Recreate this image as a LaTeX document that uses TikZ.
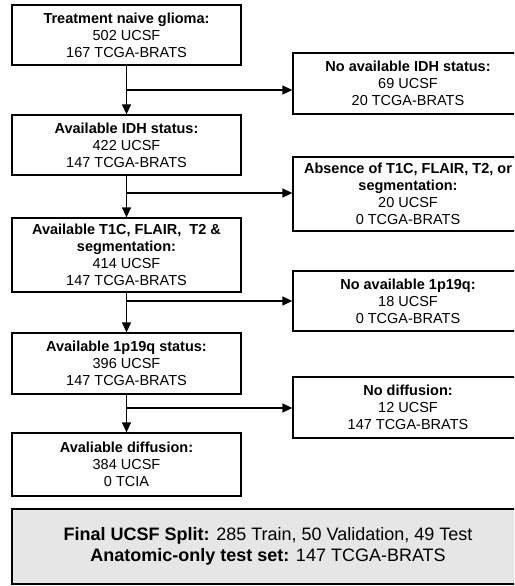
\documentclass[tikz,border=0pt]{standalone}
\usepackage{fontspec}
\setmainfont{Liberation Sans}
\usetikzlibrary{arrows.meta}
\begin{document}
\begin{tikzpicture}[x=1pt,y=-1pt,
  box/.style={draw=black,line width=1.3pt,fill=white,inner sep=0pt,align=center,
    font=\fontsize{14.5}{17}\selectfont},
  lbox/.style={box,minimum width=229pt},
  rbox/.style={box,minimum width=230pt},
  fbox/.style={draw=black,line width=1.3pt,fill={rgb,255:red,230;green,230;blue,230},inner sep=0pt,align=center,
    font=\fontsize{18}{21}\selectfont,minimum width=512pt,minimum height=75pt},
  arr/.style={line width=1.3pt,-{Triangle[length=10pt,width=9pt]}},
  ln/.style={line width=1.3pt}]
\useasboundingbox (0,0) rectangle (514,586);
\clip (0,0) rectangle (514,586);
\fill[white] (0,0) rectangle (514,586);
% left column
\node[lbox,minimum height=60pt] (b1) at (126.5,35) {\textbf{Treatment naive glioma:}\\502 UCSF\\167 TCGA-BRATS};
\node[lbox,minimum height=60pt] (b2) at (126.5,145) {\textbf{Available IDH status:}\\422 UCSF\\147 TCGA-BRATS};
\node[lbox,minimum height=74pt] (b3) at (126.5,255) {\textbf{Available T1C, FLAIR,\ \ T2 \&}\\\textbf{segmentation:}\\414 UCSF\\147 TCGA-BRATS};
\node[lbox,minimum height=61pt] (b4) at (126.5,363.5) {\textbf{Available 1p19q status:}\\396 UCSF\\147 TCGA-BRATS};
\node[lbox,minimum height=63pt] (b5) at (126.5,464.5) {\textbf{Avaliable diffusion:}\\384 UCSF\\0 TCIA};
% right column
\node[rbox,minimum height=61pt] (r1) at (408,83.5) {\textbf{No available IDH status:}\\69 UCSF\\20 TCGA-BRATS};
\node[rbox,minimum height=74pt] (r2) at (408,194) {\textbf{Absence of T1C, FLAIR, T2, or}\\\textbf{segmentation:}\\20 UCSF\\0 TCGA-BRATS};
\node[rbox,minimum height=60pt] (r3) at (408,301) {\textbf{No available 1p19q:}\\18 UCSF\\0 TCGA-BRATS};
\node[rbox,minimum height=61pt] (r4) at (408,407.5) {\textbf{No diffusion:}\\12 UCSF\\147 TCGA-BRATS};
% final
\node[fbox] (fin) at (268,546.5) {\textbf{Final UCSF Split:} 285 Train, 50 Validation, 49 Test\\\textbf{Anatomic-only test set:} 147 TCGA-BRATS};
% junctions
\coordinate (j1) at (126.5,90);
\coordinate (j2) at (126.5,193);
\coordinate (j3) at (126.5,301);
\coordinate (j4) at (126.5,408);
% connectors
\draw[arr] (b1.south) -- (b2.north);
\draw[arr] (b2.south) -- (b3.north);
\draw[arr] (b3.south) -- (b4.north);
\draw[arr] (b4.south) -- (b5.north);
\draw[arr] (j1) -- (j1 -| r1.west);
\draw[arr] (j2) -- (j2 -| r2.west);
\draw[arr] (j3) -- (j3 -| r3.west);
\draw[arr] (j4) -- (j4 -| r4.west);
\end{tikzpicture}
\end{document}
